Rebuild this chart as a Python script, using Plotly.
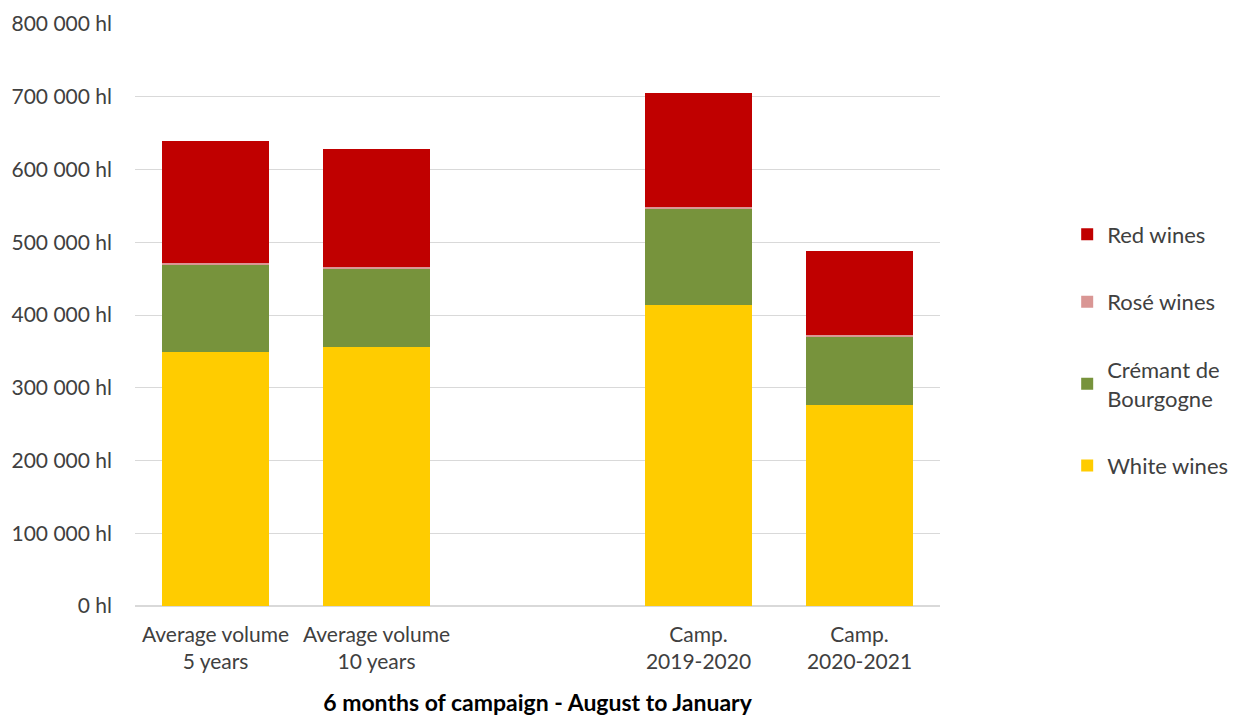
import plotly.graph_objects as go

categories = ["Average volume<br>5 years", "Average volume<br>10 years", "Camp.<br>2019-2020", "Camp.<br>2020-2021"]
slots = [0, 1, 3, 4]
white = [349000, 356000, 414000, 276000]
cremant = [121000, 108000, 132000, 95000]
rose = [2000, 2000, 2000, 2000]
red = [167000, 162000, 157000, 115000]

series = [
    ("White wines", white, "#FFCC00", 4),
    ("Crémant de<br>Bourgogne", cremant, "#77933C", 3),
    ("Rosé wines", rose, "#D99694", 2),
    ("Red wines", red, "#C00000", 1),
]

yticks = [0, 100000, 200000, 300000, 400000, 500000, 600000, 700000, 800000]
yticktext = ["0 hl", "100 000 hl", "200 000 hl", "300 000 hl", "400 000 hl",
             "500 000 hl", "600 000 hl", "700 000 hl", "800 000 hl"]

font = "Lato, Open Sans, sans-serif"
fig = go.Figure()
for name, vals, col, rank in series:
    fig.add_trace(go.Bar(x=slots, y=vals, name=name, marker_color=col,
                         marker_line_width=0, width=0.66, legendgroup=name,
                         legendrank=rank))

fig.update_layout(
    barmode="stack",
    width=1247, height=716,
    margin=dict(l=135, r=307, t=24, b=110, autoexpand=False),
    plot_bgcolor="white", paper_bgcolor="white",
    font=dict(family=font, size=21, color="#404040"),
    legend=dict(traceorder="grouped", x=1.158, xanchor="left", y=0.44, yanchor="middle",
                tracegroupgap=36, font=dict(size=22, color="#404040"),
                itemwidth=30),
    xaxis=dict(range=[-0.5, 4.5], tickmode="array", tickvals=slots, ticktext=categories,
               showgrid=False, zeroline=False, showline=False, ticks="",
               ticklabelstandoff=14, automargin=False,
               title=dict(text="<b>6 months of campaign - August to January</b>",
                          font=dict(size=23, color="#000000"), standoff=22)),
    yaxis=dict(range=[0, 800000], tickmode="array", tickvals=yticks, ticktext=yticktext,
               showgrid=True, gridcolor="#D9D9D9", gridwidth=1, zeroline=True,
               zerolinecolor="#D9D9D9", ticks="", ticklabelstandoff=22, automargin=False),
    bargap=0.34,
)
fig.write_html("out.html")
